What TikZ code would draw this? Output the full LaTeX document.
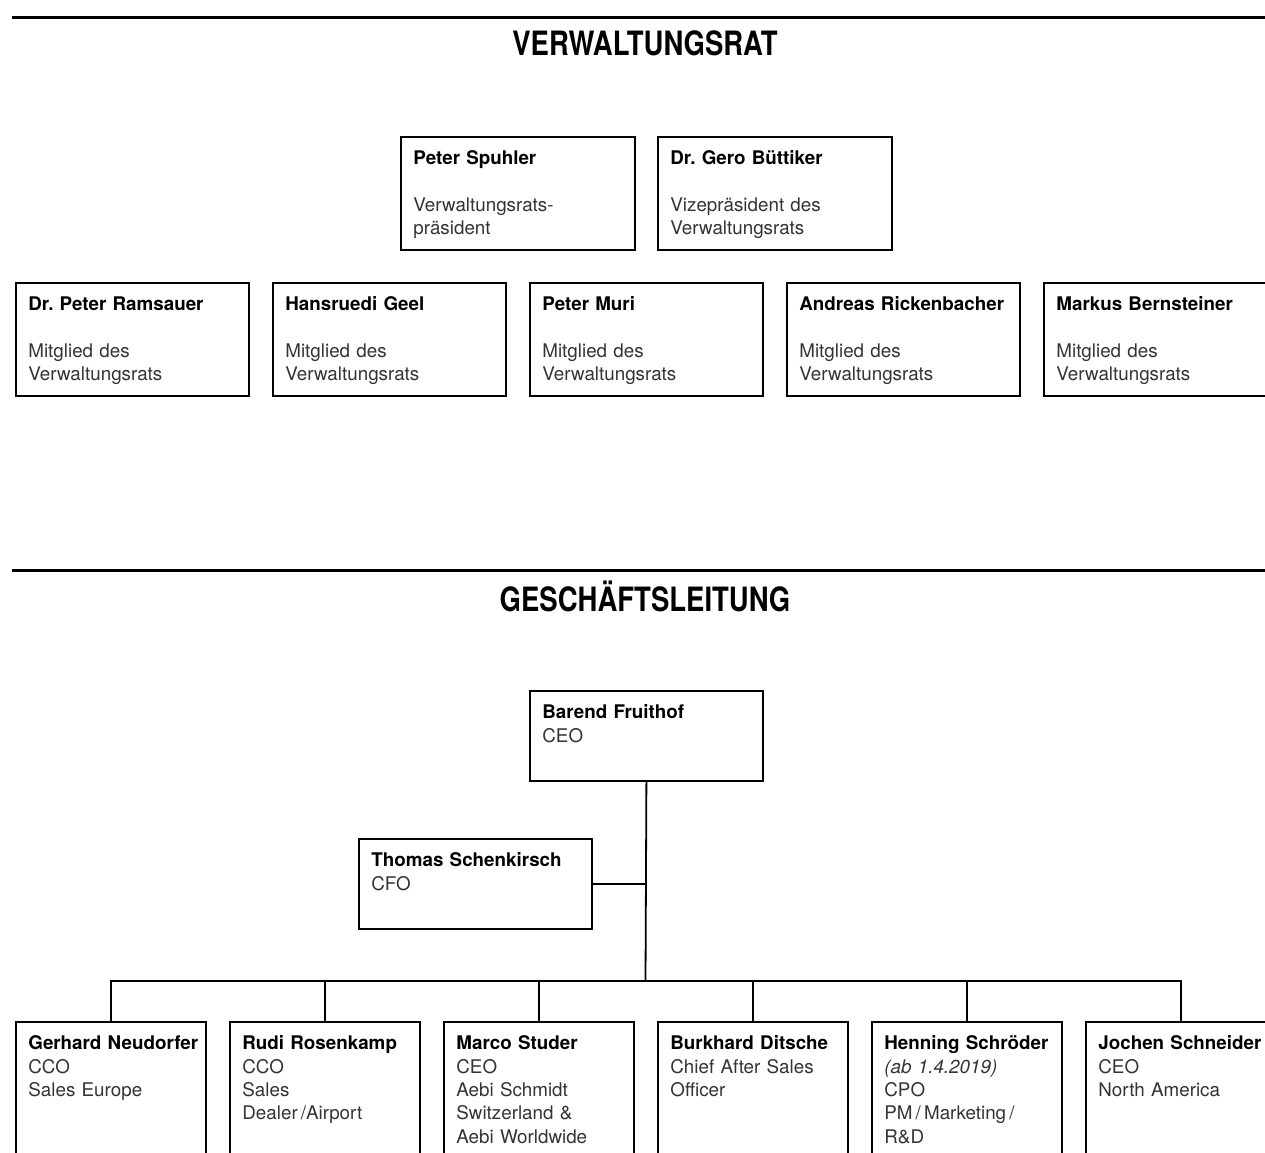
\documentclass[tikz,border=0pt]{standalone}
\usepackage{fontspec}
\setmainfont{TeX Gyre Heros}
\usepackage{tikz}
\frenchspacing

\newcommand{\who}[1]{\mbox{\textcolor{black}{\bfseries #1}}}
\tikzset{
  box/.style={shape=rectangle,draw=black,line width=1.8pt,anchor=north west,align=left,inner xsep=12.5pt,inner ysep=14pt,text height=14pt,text=black!80,font=\fontsize{18.8}{23.3}\selectfont},
  title/.style={anchor=base,font=\fontsize{33.5}{40}\selectfont\bfseries},
  rule/.style={line width=3pt},
  link/.style={draw=black,line width=1.8pt}
}

\begin{document}
\begin{tikzpicture}[x=1pt,y=-1pt]
\useasboundingbox (0,0) rectangle (1265,1152);

\draw[rule] (12,17) -- (1265,17);
\node[title] (t0) at (645,55) {\scalebox{0.82}[1]{VERWALTUNGSRAT}};
\node[box,text width=209pt,text depth=71pt] (0) at (400,136) {\who{Peter Spuhler}\\[23.3pt]Verwaltungsrats-\\präsident};
\node[box,text width=209pt,text depth=71pt] (1) at (657,136) {\who{Dr. Gero Büttiker}\\[23.3pt]Vizepräsident des\\Verwaltungsrats};
\node[box,text width=208pt,text depth=71pt] (2) at (15,282) {\who{Dr. Peter Ramsauer}\\[23.3pt]Mitglied des\\Verwaltungsrats};
\node[box,text width=208pt,text depth=71pt] (3) at (272,282) {\who{Hansruedi Geel}\\[23.3pt]Mitglied des\\Verwaltungsrats};
\node[box,text width=208pt,text depth=71pt] (4) at (529,282) {\who{Peter Muri}\\[23.3pt]Mitglied des\\Verwaltungsrats};
\node[box,text width=208pt,text depth=71pt] (5) at (786,282) {\who{Andreas Rickenbacher}\\[23.3pt]Mitglied des\\Verwaltungsrats};
\node[box,text width=208pt,text depth=71pt] (6) at (1043,282) {\who{Markus Bernsteiner}\\[23.3pt]Mitglied des\\Verwaltungsrats};

\draw[rule] (12,570) -- (1265,570);
\node[title] (t1) at (645,611) {\scalebox{0.82}[1]{GESCHÄFTSLEITUNG}};
\node[box,text width=208pt,text depth=48pt] (7) at (529,690) {\who{Barend Fruithof}\\CEO};
\node[box,text width=208pt,text depth=48pt] (8) at (358,838) {\who{Thomas Schenkirsch}\\CFO};
\node[box,text width=165pt,text depth=118pt] (9) at (15,1021) {\who{Gerhard Neudorfer}\\CCO\\Sales Europe};
\node[box,text width=165pt,text depth=118pt] (10) at (229,1021) {\who{Rudi Rosenkamp}\\CCO\\Sales\\Dealer\,/Airport};
\node[box,text width=165pt,text depth=118pt] (11) at (443,1021) {\who{Marco Studer}\\CEO\\Aebi Schmidt\\Switzerland \&\\Aebi Worldwide};
\node[box,text width=165pt,text depth=118pt] (12) at (657,1021) {\who{Burkhard Ditsche}\\Chief After Sales\\Officer};
\node[box,text width=165pt,text depth=118pt] (13) at (871,1021) {\who{Henning Schröder}\\\textit{(ab 1.4.2019)}\\CPO\\PM\,/\,Marketing\,/\\R\&D};
\node[box,text width=165pt,text depth=118pt] (14) at (1085,1021) {\who{Jochen Schneider}\\CEO\\North America};

\coordinate (j) at (645.5,981);
\path [link] (7.south) -- (j);
\path [link] (8.east) -- (8.east -| 7.south);
\path [link] (9.north) |- (j);
\path [link] (10.north) |- (j);
\path [link] (11.north) |- (j);
\path [link] (12.north) |- (j);
\path [link] (13.north) |- (j);
\path [link] (14.north) |- (j);
\end{tikzpicture}
\end{document}
